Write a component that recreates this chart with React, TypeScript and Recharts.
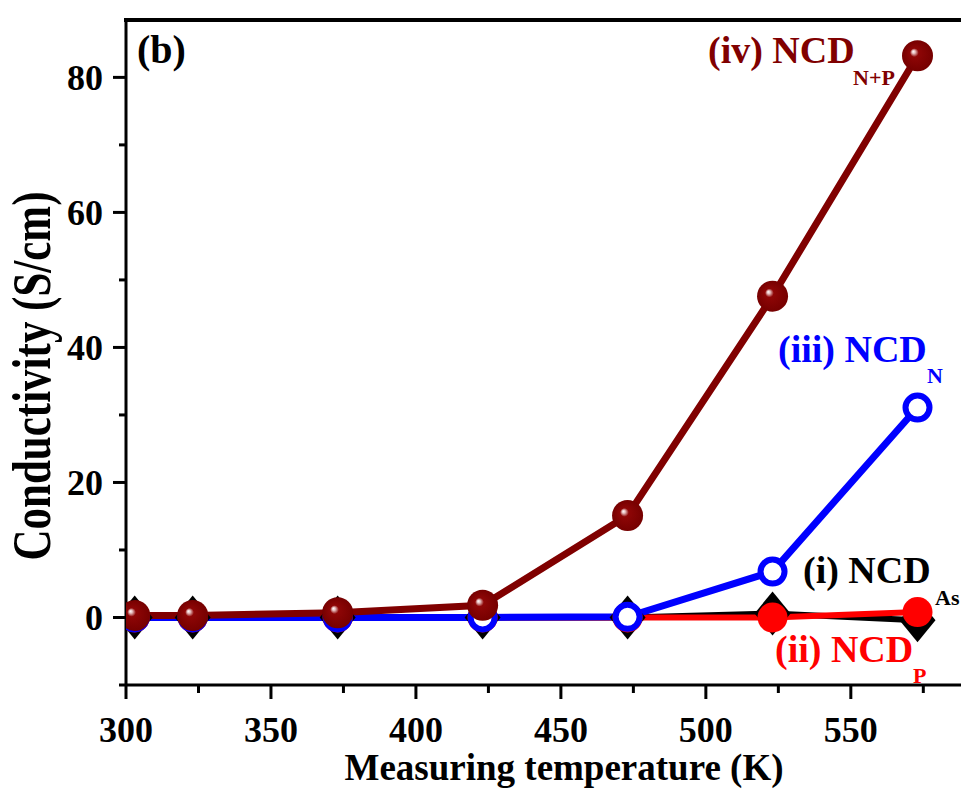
import React from 'react';
import { LineChart, Line, XAxis, YAxis } from 'recharts';

const temps = [303, 323, 373, 423, 473, 523, 573];
const ncdAs = [0, 0, 0, 0, 0, 0.6, -0.4];
const ncdP = [0, 0, 0, 0, 0, 0, 0.8];
const ncdN = [0, 0, 0, 0, 0.1, 6.8, 31.1];
const ncdNP = [0.3, 0.3, 0.7, 1.8, 15.1, 47.6, 83.2];

const xTicks = [300, 325, 350, 375, 400, 425, 450, 475, 500, 525, 550, 575];
const yTicks = [-10, 0, 10, 20, 30, 40, 50, 60, 70, 80, 90];

const FONT = '"Liberation Serif", "Times New Roman", serif';

const data = temps.map((t, i) => ({
  t,
  as: ncdAs[i],
  p: ncdP[i],
  n: ncdN[i],
  np: ncdNP[i],
}));

const XTick = (props: any) => {
  const { x, y, payload } = props;
  const major = payload.value % 50 === 0;
  return (
    <g>
      <line x1={x} y1={y} x2={x} y2={y + (major ? 14 : 8)} stroke="#000" strokeWidth={3} />
      {major && (
        <text x={x} y={y + 57} textAnchor="middle" fontFamily={FONT} fontWeight="bold" fontSize={36} fill="#000">
          {payload.value}
        </text>
      )}
    </g>
  );
};

const YTick = (props: any) => {
  const { x, y, payload } = props;
  const major = payload.value % 20 === 0;
  return (
    <g>
      <line x1={x} y1={y} x2={x - (major ? 13 : 7)} y2={y} stroke="#000" strokeWidth={3} />
      {major && (
        <text x={x - 23} y={y} dy="0.35em" textAnchor="end" fontFamily={FONT} fontWeight="bold" fontSize={36} fill="#000">
          {payload.value}
        </text>
      )}
    </g>
  );
};

const sphereDot = (p: any) => (
  <circle key={`np-${p.index}`} cx={p.cx} cy={p.cy} r={15.5} fill="url(#sphere)" />
);
const ringDot = (p: any) => (
  <circle key={`n-${p.index}`} cx={p.cx} cy={p.cy} r={12} fill="#fff" stroke="#0000ff" strokeWidth={6} />
);
const redDot = (p: any) => (
  <circle key={`p-${p.index}`} cx={p.cx} cy={p.cy} r={15} fill="#ff0000" />
);
const diamondDot = (p: any) => (
  <polygon
    key={`as-${p.index}`}
    points={`${p.cx},${p.cy - 22} ${p.cx + 18},${p.cy} ${p.cx},${p.cy + 22} ${p.cx - 18},${p.cy}`}
    fill="#000"
  />
);

const Tag = ({ x, y, main, sub, subDx, subY, color }: any) => (
  <text x={x} y={y} fontFamily={FONT} fontWeight="bold" fontSize={38} fill={color}>
    {main}
    <tspan x={x + subDx} y={subY} fontSize={22}>
      {sub}
    </tspan>
  </text>
);

export default function App() {
  return (
    <div style={{ position: 'absolute', left: 0, top: 0, width: 961, height: 798, background: '#fff' }}>
      <svg width={0} height={0} style={{ position: 'absolute' }}>
        <defs>
          <radialGradient id="sphere" cx="0.5" cy="0.5" r="0.5" fx="0.36" fy="0.36">
            <stop offset="0" stopColor="#ffffff" />
            <stop offset="0.1" stopColor="#e8c4c4" />
            <stop offset="0.28" stopColor="#8e0606" />
            <stop offset="1" stopColor="#760000" />
          </radialGradient>
        </defs>
      </svg>
      <LineChart width={961} height={798} data={data} margin={{ top: 20, right: 0, bottom: 0, left: 0 }}>
        <XAxis
          dataKey="t"
          type="number"
          domain={[300, 588]}
          ticks={xTicks}
          interval={0}
          allowDataOverflow
          height={113}
          tickSize={0}
          tickMargin={0}
          tickLine={false}
          tick={<XTick />}
          axisLine={{ stroke: '#000', strokeWidth: 3 }}
        />
        <YAxis
          type="number"
          domain={[-10, 88.5]}
          ticks={yTicks.slice(0, -1)}
          interval={0}
          allowDataOverflow
          width={126}
          tickSize={0}
          tickMargin={0}
          tickLine={false}
          tick={<YTick />}
          axisLine={{ stroke: '#000', strokeWidth: 3 }}
        />
        <Line dataKey="as" stroke="#000" strokeWidth={6} dot={diamondDot} isAnimationActive={false} />
        <Line dataKey="p" stroke="#ff0000" strokeWidth={6} dot={redDot} isAnimationActive={false} />
        <Line dataKey="n" stroke="#0000ff" strokeWidth={7} dot={ringDot} isAnimationActive={false} />
        <Line dataKey="np" stroke="#800000" strokeWidth={7} dot={sphereDot} isAnimationActive={false} />
      </LineChart>
      <div style={{ position: 'absolute', left: 124, top: 18, width: 837, height: 4, background: '#000' }} />
      <svg width={961} height={798} style={{ position: 'absolute', left: 0, top: 0, pointerEvents: 'none' }}>
        <text x={137} y={63} fontFamily={FONT} fontWeight="bold" fontSize={40} fill="#000">(b)</text>
        <Tag x={708} y={63} main="(iv) NCD" sub="N+P" subDx={145} subY={85} color="#800000" />
        <Tag x={778} y={362} main="(iii) NCD" sub="N" subDx={149} subY={383} color="#0000ff" />
        <Tag x={803} y={583} main="(i) NCD" sub="As" subDx={132} subY={605} color="#000" />
        <Tag x={775} y={662} main="(ii) NCD" sub="P" subDx={138} subY={683} color="#ff0000" />
        <text x={564} y={780} textAnchor="middle" fontFamily={FONT} fontWeight="bold" fontSize={37} fill="#000">
          Measuring temperature (K)
        </text>
        <text
          transform="translate(50,376) rotate(-90) scale(1,1.3)"
          textAnchor="middle"
          fontFamily={FONT}
          fontWeight="bold"
          fontSize={43}
          fill="#000"
        >
          Conductivity (S/cm)
        </text>
      </svg>
    </div>
  );
}
